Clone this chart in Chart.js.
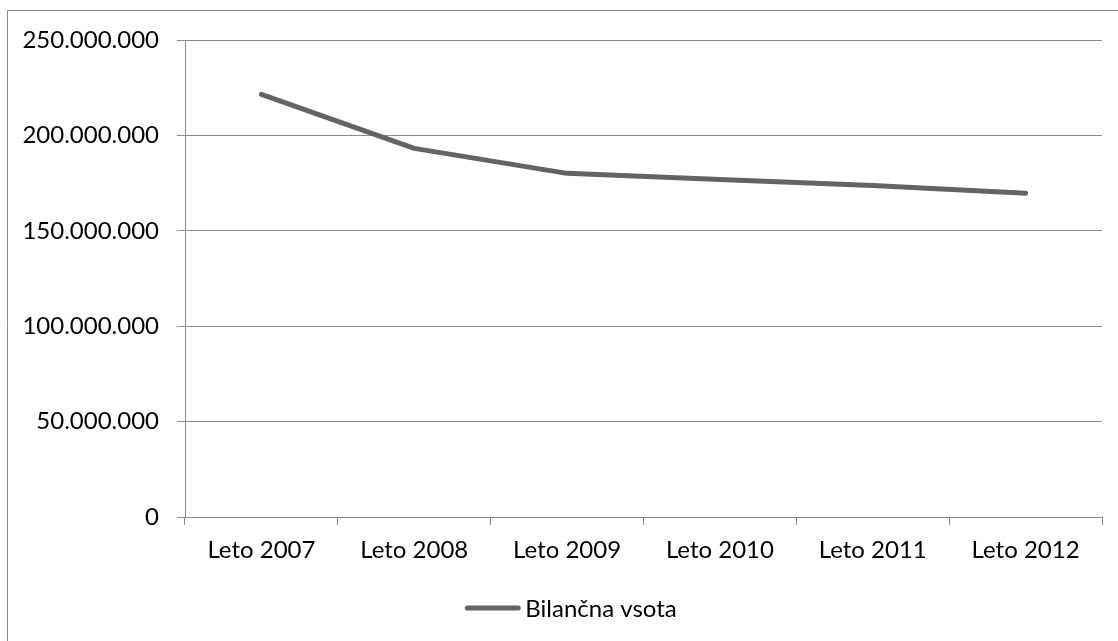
<!DOCTYPE html>
<html>
<head>
<meta charset="utf-8">
<script src="https://cdn.jsdelivr.net/npm/chart.js@4/dist/chart.umd.min.js"></script>
<style>
  html, body { margin: 0; padding: 0; background: #ffffff; }
  #wrap { width: 1118px; height: 641px; position: relative; }
</style>
</head>
<body>
<div id="wrap"><canvas id="c" width="1118" height="641"></canvas></div>
<script>
// Bilančna vsota po letih
const categories = ['Leto 2007', 'Leto 2008', 'Leto 2009', 'Leto 2010', 'Leto 2011', 'Leto 2012'];
const seriesName = 'Bilančna vsota';
const seriesValues = [221500000, 193200000, 180100000, 176900000, 173700000, 169700000];
const yTicks = [0, 50000000, 100000000, 150000000, 200000000, 250000000];

const FONT = 'Lato, "Open Sans", sans-serif';
const FONT_SIZE = 24;
const GRID = '#8a8a8a';
const LINE = '#646464';

function fmt(v) {
  return String(Math.round(v)).replace(/\B(?=(\d{3})+(?!\d))/g, '.');
}

// Frame around the chart (left and top edges)
const framePlugin = {
  id: 'frame',
  beforeDraw(chart) {
    const ctx = chart.ctx;
    ctx.save();
    ctx.strokeStyle = GRID;
    ctx.lineWidth = 1;
    ctx.beginPath();
    ctx.moveTo(7.5, chart.height);
    ctx.lineTo(7.5, 10.5);
    ctx.lineTo(chart.width, 10.5);
    ctx.stroke();
    ctx.restore();
  }
};

// Legend drawn below the axis: line sample followed by the series name
const legendPlugin = {
  id: 'lineLegend',
  afterDraw(chart) {
    const ctx = chart.ctx;
    const ds = chart.data.datasets[0];
    ctx.save();
    ctx.font = FONT_SIZE + 'px ' + FONT;
    const tw = ctx.measureText(ds.label).width;
    const sample = 55, gap = 5;
    const total = sample + gap + tw;
    const cx = 571;
    const x0 = cx - total / 2;
    const y = 608;
    ctx.strokeStyle = ds.borderColor;
    ctx.lineWidth = ds.borderWidth;
    ctx.lineCap = 'round';
    ctx.beginPath();
    ctx.moveTo(x0 + 2, y);
    ctx.lineTo(x0 + sample - 2, y);
    ctx.stroke();
    ctx.fillStyle = '#000000';
    ctx.textBaseline = 'middle';
    ctx.textAlign = 'left';
    ctx.fillText(ds.label, x0 + sample + gap, y + 1);
    ctx.restore();
  }
};

new Chart(document.getElementById('c'), {
  type: 'line',
  data: {
    labels: categories,
    datasets: [{
      label: seriesName,
      data: seriesValues,
      borderColor: LINE,
      backgroundColor: LINE,
      borderWidth: 5,
      borderCapStyle: 'round',
      borderJoinStyle: 'round',
      pointRadius: 0,
      pointHoverRadius: 0,
      tension: 0,
      fill: false
    }]
  },
  options: {
    responsive: false,
    animation: false,
    devicePixelRatio: 1,
    layout: { padding: { left: 0, right: 16, top: 40, bottom: 0 } },
    plugins: {
      legend: { display: false },
      tooltip: { enabled: false }
    },
    scales: {
      x: {
        type: 'category',
        offset: true,
        afterFit(scale) { scale.height = 124; },
        grid: {
          offset: true,
          drawOnChartArea: false,
          drawTicks: true,
          tickLength: 8,
          color: GRID,
          lineWidth: 1
        },
        border: { display: true, color: GRID, width: 1 },
        ticks: {
          color: '#000000',
          font: { family: FONT, size: FONT_SIZE },
          padding: 11,
          maxRotation: 0,
          autoSkip: false
        }
      },
      y: {
        min: 0,
        max: 250000000,
        afterFit(scale) { scale.width = 185; },
        afterBuildTicks(scale) { scale.ticks = yTicks.map(v => ({ value: v })); },
        grid: {
          drawOnChartArea: true,
          drawTicks: true,
          tickLength: 8,
          color: GRID,
          lineWidth: 1
        },
        border: { display: true, color: GRID, width: 1 },
        ticks: {
          color: '#000000',
          font: { family: FONT, size: FONT_SIZE },
          padding: 18,
          callback: (v) => fmt(v)
        }
      }
    }
  },
  plugins: [framePlugin, legendPlugin]
});
</script>
</body>
</html>
